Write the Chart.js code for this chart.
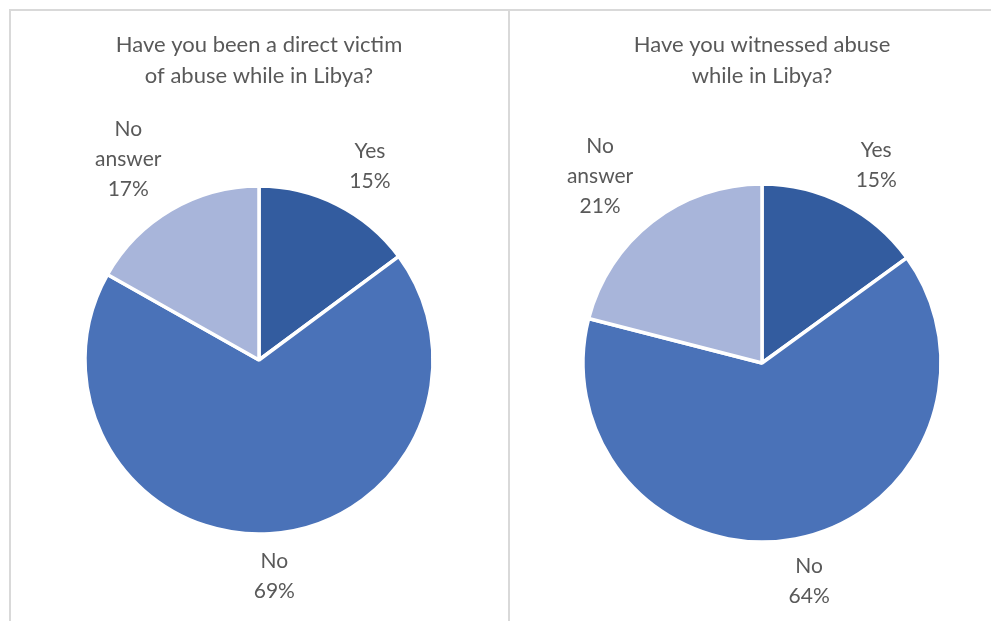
<!DOCTYPE html>
<html>
<head>
<meta charset="utf-8">
<script src="https://cdn.jsdelivr.net/npm/chart.js@4/dist/chart.umd.min.js"></script>
<style>
  html, body { margin: 0; padding: 0; background: #fff; width: 991px; height: 621px; overflow: hidden; }
  .panel { position: absolute; top: 9px; height: 612px; border-top: 2px solid #d9d9d9; box-sizing: border-box; }
  #p1 { left: 9px; width: 501px; border-left: 2px solid #d9d9d9; border-right: 2px solid #d9d9d9; }
  #p2 { left: 510px; width: 481px; }
  .panel canvas { display: block; }
</style>
</head>
<body>
<div class="panel" id="p1"><canvas id="c1" width="497" height="610"></canvas></div>
<div class="panel" id="p2"><canvas id="c2" width="481" height="610"></canvas></div>
<script>
// Survey answers, in percent
const categories = ['Yes', 'No', 'No answer'];
const victimValues = [15, 69, 17];
const witnessValues = [15, 64, 21];
const victimTitle = ['Have you been a direct victim', 'of abuse while in Libya?'];
const witnessTitle = ['Have you witnessed abuse', 'while in Libya?'];
const sliceColors = ['#335C9F', '#4A72B8', '#A8B5DA'];

const TEXT_COLOR = '#595959';
const FONT_FAMILY = 'Lato, "Open Sans", sans-serif';

// Draws each slice's category name and percentage outside the pie edge,
// pushed out along the slice's middle angle past the label's own box
const outsideLabels = {
  id: 'outsideLabels',
  afterDatasetsDraw(chart, args, opts) {
    const ctx = chart.ctx;
    const meta = chart.getDatasetMeta(0);
    const data = chart.data.datasets[0].data;
    const lineH = opts.lineHeight;
    ctx.save();
    ctx.font = opts.size + 'px ' + FONT_FAMILY;
    ctx.fillStyle = TEXT_COLOR;
    ctx.textAlign = 'center';
    ctx.textBaseline = 'middle';
    meta.data.forEach((arc, i) => {
      const p = arc.getProps(['x', 'y', 'startAngle', 'endAngle', 'outerRadius'], true);
      const mid = (p.startAngle + p.endAngle) / 2;
      const lines = chart.data.labels[i].split(' ').concat([data[i] + '%']);
      const w = Math.max(...lines.map(l => ctx.measureText(l).width));
      const h = lines.length * lineH;
      const x = p.x + Math.cos(mid) * (p.outerRadius + opts.gapX + w / 2);
      const yc = p.y + Math.sin(mid) * (p.outerRadius + opts.gapY + h / 2) + opts.shiftY;
      const y0 = yc - h / 2 + lineH / 2;
      lines.forEach((l, k) => ctx.fillText(l, x, y0 + k * lineH));
    });
    ctx.restore();
  }
};

function makePie(id, values, title, radius, padding) {
  return new Chart(document.getElementById(id), {
    type: 'pie',
    data: {
      labels: categories,
      datasets: [{
        data: values,
        backgroundColor: sliceColors,
        borderColor: '#ffffff',
        borderWidth: 3.5,
        hoverOffset: 0,
        radius: radius
      }]
    },
    options: {
      responsive: false,
      animation: false,
      events: [],
      layout: { padding: padding },
      plugins: {
        legend: { display: false },
        tooltip: { enabled: false },
        title: {
          display: true,
          text: title,
          color: TEXT_COLOR,
          font: { family: FONT_FAMILY, size: 22, weight: 'normal', lineHeight: 1.41 },
          padding: { top: 18.5, bottom: 14.5 }
        },
        outsideLabels: { size: 21, lineHeight: 30, gapX: 52, gapY: 13, shiftY: 0 }
      }
    },
    plugins: [outsideLabels]
  });
}

makePie('c1', victimValues, victimTitle, 174, { left: 0, right: 1, top: 0, bottom: 7 });
makePie('c2', witnessValues, witnessTitle, 179, { left: 23, right: 0, top: 0, bottom: 1 });
</script>
</body>
</html>
